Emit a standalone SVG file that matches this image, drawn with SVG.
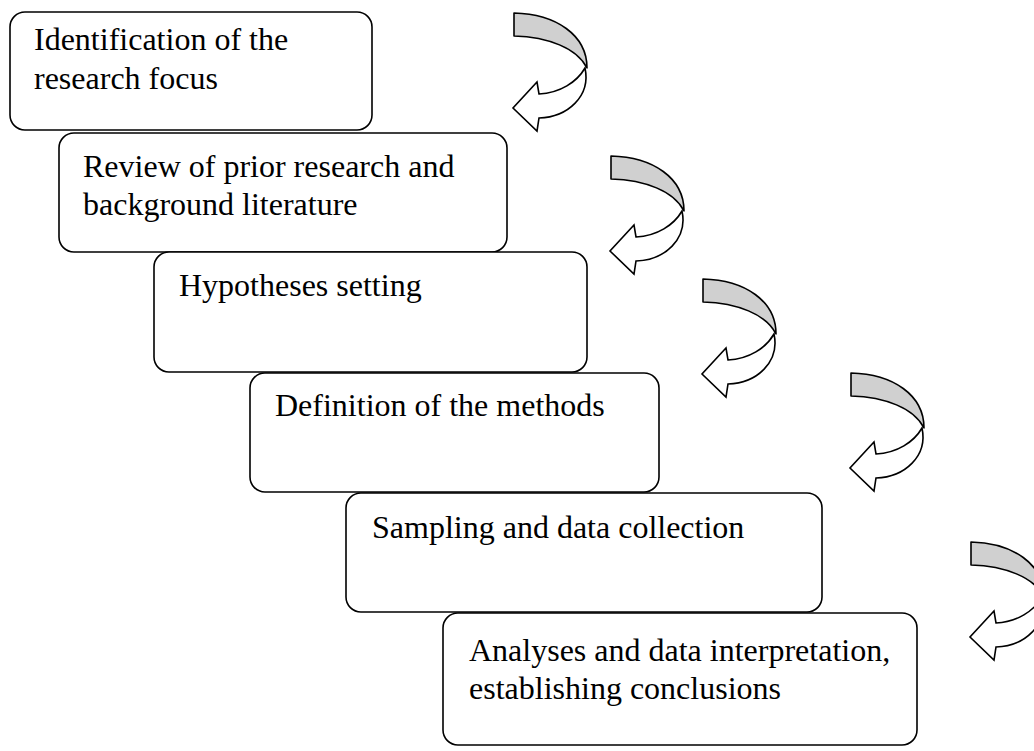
<svg xmlns="http://www.w3.org/2000/svg" width="1034" height="751" viewBox="0 0 1034 751">
<style>
.box{fill:#fff;stroke:#000;stroke-width:1.6}
.t{font-family:"Liberation Serif","Times New Roman",serif;font-size:32px;fill:#000}
.back{fill:#d0d0d0;stroke:#000;stroke-width:1.6;stroke-linejoin:round}
.front{fill:#fff;stroke:#000;stroke-width:1.6;stroke-linejoin:miter}
</style>
<defs>
<g id="curl">
<path class="back" d="M514,13 C556,14 587,35 587,68 C577,48 548,37 514,36 Z"/>
<path class="front" d="M585,68 C591,96 568,117 539,118 L537,131 L513,108 L537,82 L539,94 C560,93 577,82 585,68 Z"/>
</g>
</defs>
<g id="node1"><rect class="box" x="10" y="12" width="362" height="118" rx="15"/><text class="t" x="34" y="50">Identification of the</text><text class="t" x="34" y="89">research focus</text></g>
<g id="node2"><rect class="box" x="59" y="133" width="448" height="119" rx="15"/><text class="t" x="83" y="177">Review of prior research and</text><text class="t" x="83" y="215">background literature</text></g>
<g id="node3"><rect class="box" x="154" y="252" width="433" height="120" rx="15"/><text class="t" x="179" y="296">Hypotheses setting</text></g>
<g id="node4"><rect class="box" x="250" y="373" width="409" height="119" rx="15"/><text class="t" x="275" y="416">Definition of the methods</text></g>
<g id="node5"><rect class="box" x="346" y="493" width="476" height="119" rx="15"/><text class="t" x="372" y="538">Sampling and data collection</text></g>
<g id="node6"><rect class="box" x="443" y="613" width="474" height="132" rx="15"/><text class="t" x="469" y="661">Analyses and data interpretation,</text><text class="t" x="469" y="699">establishing conclusions</text></g>
<g id="connectors">
<use href="#curl"/>
<use href="#curl" transform="translate(97,143)"/>
<use href="#curl" transform="translate(189,266)"/>
<use href="#curl" transform="translate(337,360)"/>
<use href="#curl" transform="translate(457,529)"/>
</g>
</svg>
